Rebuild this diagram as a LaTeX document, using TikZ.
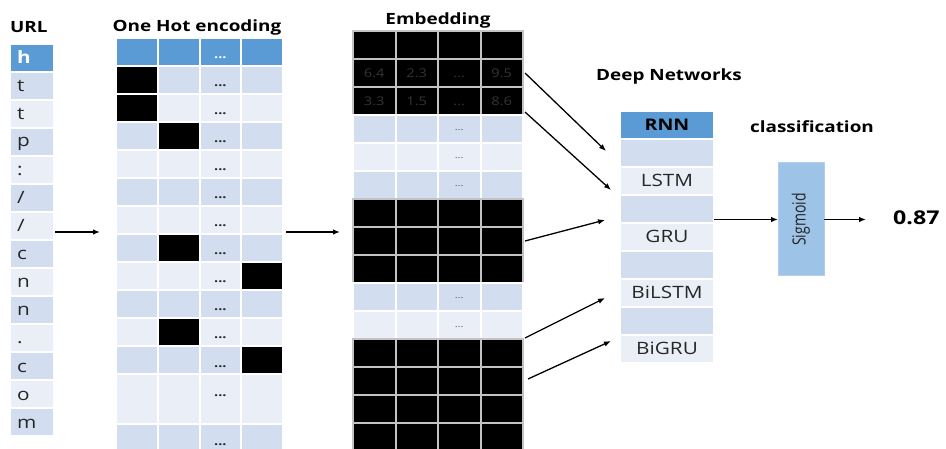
\documentclass[tikz,border=0pt]{standalone}
\usepackage{fontspec}
\setmainfont{Open Sans}[FakeStretch=1.22]
\newfontfamily\plainsans{Open Sans}
\usetikzlibrary{arrows.meta}

\definecolor{hdrblue}{RGB}{91,155,213}
\definecolor{rowdark}{RGB}{210,222,239}
\definecolor{rowlight}{RGB}{234,239,247}
\definecolor{sigblue}{RGB}{157,195,230}
\definecolor{sigedge}{RGB}{175,207,236}
\definecolor{inktext}{RGB}{38,38,38}
\definecolor{dimnum}{RGB}{52,52,52}
\definecolor{embgap}{RGB}{195,195,195}
\definecolor{dotgray}{RGB}{95,95,95}

\begin{document}
\begin{tikzpicture}[x=1pt,y=-1pt,
  cell/.style={anchor=north west, inner sep=0pt, outer sep=0pt, line width=2pt, draw=white},
  title/.style={font=\bfseries\fontsize{15.5}{18}\selectfont, text=black, inner sep=0pt, anchor=base},
  letter/.style={font=\fontsize{17}{20}\selectfont, text=inktext, inner sep=0pt, anchor=base west},
  hotdots/.style={font=\bfseries\fontsize{12}{14}\selectfont, inner sep=0pt, anchor=base, text=inktext},
  embdots/.style={font=\fontsize{9}{11}\selectfont, inner sep=0pt, anchor=base, text=dotgray},
  embnum/.style={font=\fontsize{12}{14}\selectfont, inner sep=0pt, anchor=base, text=dimnum},
  netlabel/.style={font=\fontsize{17}{20}\selectfont, inner sep=0pt, anchor=base, text=inktext},
  arr/.style={line width=1.3pt, -{Latex[length=7pt,width=5.5pt]}},
]

\useasboundingbox (0,0) rectangle (946,449);

% ---------- URL characters ----------
\node[title, anchor=base west] (urltitle) at (10,33) {URL};
\node[cell, fill=hdrblue, minimum width=44pt, minimum height=28pt] (u0) at (10,44) {};
\foreach \i in {1,...,13}{
  \ifodd\i\def\rc{rowdark}\else\def\rc{rowlight}\fi
  \node[cell, fill=\rc, minimum width=44pt, minimum height=28pt] (u\i) at (10,{44+28*\i}) {};
}
\node[letter, font=\bfseries\fontsize{17}{20}\selectfont, text=white] (l0) at (17,64) {h};
\node[letter] (l1)  at (17,92)  {t};
\node[letter] (l2)  at (17,120) {t};
\node[letter] (l3)  at (17,147) {p};
\node[letter] (l4)  at (17,176) {:};
\node[letter] (l5)  at (17,204) {/};
\node[letter] (l6)  at (17,232) {/};
\node[letter] (l7)  at (17,260) {c};
\node[letter] (l8)  at (17,288) {n};
\node[letter] (l9)  at (17,316) {n};
\node[letter] (l10) at (17,344) {.};
\node[letter] (l11) at (17,372) {c};
\node[letter] (l12) at (17,400) {o};
\node[letter] (l13) at (17,428) {m};

% ---------- one-hot matrix ----------
\node[title] (hottitle) at (197,32) {One Hot encoding};
\foreach \k in {0,...,11}{
  \ifnum\k=0 \def\fc{hdrblue}\else\ifodd\k\def\fc{rowdark}\else\def\fc{rowlight}\fi\fi
  \foreach \c in {1,...,4}
    \node[cell, fill=\fc, minimum width=41.75pt, minimum height=28pt] (hot-\k-\c) at ({116+41.75*(\c-1)},{38+28*\k}) {};
}
\foreach \c in {1,...,4}{
  \node[cell, fill=rowlight, minimum width=41.75pt, minimum height=50pt] (hot-12-\c) at ({116+41.75*(\c-1)},374) {};
  \node[cell, fill=rowdark, minimum width=41.75pt, minimum height=28pt] (hot-13-\c) at ({116+41.75*(\c-1)},424) {};
}
\foreach \k/\c in {1/1,2/1,3/2,7/2,8/4,10/2,11/4}
  \node[cell, fill=black, minimum width=41.75pt, minimum height=28pt] (one-\k-\c) at ({116+41.75*(\c-1)},{38+28*\k}) {};
\node[hotdots, text=white] (hd-0) at (220.4,59) {...};
\foreach \k in {1,...,11}
  \node[hotdots] (hd-\k) at (220.4,{38+28*\k+21}) {...};
\node[hotdots] (hd-12) at (220.4,396) {...};
\node[hotdots] (hd-13) at (220.4,445) {...};

% ---------- embedding matrix ----------
\node[title] (embtitle) at (438,25) {Embedding};
\foreach \k/\fc/\bc in {0/black/embgap,1/black/embgap,2/black/embgap,3/rowdark/white,
    4/rowlight/white,5/rowdark/white,6/black/embgap,7/black/embgap,8/black/embgap,
    9/rowdark/white,10/rowlight/white,11/black/embgap,12/black/embgap,13/black/embgap,14/black/embgap}
  \foreach \c in {1,...,4}
    \node[cell, fill=\fc, draw=\bc, minimum width=42.5pt, minimum height=28pt] (emb-\k-\c) at ({353+42.5*(\c-1)},{31+28*\k}) {};
\node[embnum] (n11) at (374.2,77.5) {6.4};
\node[embnum] (n12) at (416.7,77.5) {2.3};
\node[embnum] (n13) at (459.2,77.5) {...};
\node[embnum] (n14) at (501.7,77.5) {9.5};
\node[embnum] (n21) at (374.2,105.5) {3.3};
\node[embnum] (n22) at (416.7,105.5) {1.5};
\node[embnum] (n23) at (459.2,105.5) {...};
\node[embnum] (n24) at (501.7,105.5) {8.6};
\foreach \k in {3,4,5,9,10}
  \node[embdots] (ed-\k) at (459.2,{31+28*\k+16}) {...};

% ---------- recurrent models ----------
\node[title] (nettitle) at (669,81) {Deep Networks};
\node[cell, fill=hdrblue, minimum width=94pt, minimum height=28pt] (rnn-0) at (620,111) {};
\foreach \k in {1,...,8}{
  \ifodd\k\def\fc{rowdark}\else\def\fc{rowlight}\fi
  \node[cell, fill=\fc, minimum width=94pt, minimum height=28pt] (rnn-\k) at (620,{111+28*\k}) {};
}
\node[netlabel, font=\bfseries\fontsize{16}{18}\selectfont, text=black] (t-rnn) at (667,130.5) {RNN};
\node[netlabel] (t-lstm)   at (667,187) {LSTM};
\node[netlabel] (t-gru)    at (667,243) {GRU};
\node[netlabel] (t-bilstm) at (667,299) {BiLSTM};
\node[netlabel] (t-bigru)  at (667,355) {BiGRU};

% ---------- classifier ----------
\node[title] (clstitle) at (812,133) {classification};
\node[cell, fill=sigblue, draw=sigedge, line width=1pt, minimum width=46pt, minimum height=113pt] (sig) at (778,163) {};
\node[rotate=90, inner sep=0pt, text=inktext, font=\plainsans\fontsize{14}{16}\selectfont] (sigtxt) at (sig.center) {\scalebox{1}[1.3]{Sigmoid}};
\node[title, anchor=base west, font=\bfseries\fontsize{19}{21}\selectfont] (out) at (893,225) {0.87};

% ---------- connectors ----------
\coordinate (hotin) at (100,232);
\coordinate (embin) at (340,232);
\coordinate (t1) at (606,151);
\coordinate (t2) at (611,190);
\coordinate (t3) at (605,220);
\coordinate (t4) at (605,298);
\coordinate (t5) at (611,341);

\draw[arr] ([xshift=1pt,yshift=-6pt]u6.east) -- (hotin);
\draw[arr] ([xshift=3pt,yshift=-12pt]hot-6-4.east) -- (embin);
\draw[arr] ([xshift=2pt]emb-1-4.east) -- (t1);
\draw[arr] ([xshift=2pt,yshift=3pt]emb-2-4.south east) -- (t2);
\draw[arr] ([xshift=2pt]emb-7-4.east) -- (t3);
\draw[arr] ([xshift=2pt,yshift=1pt]emb-11-4.north east) -- (t4);
\draw[arr] ([xshift=5pt,yshift=2pt]emb-12-4.east) -- (t5);
\draw[arr] (rnn-3.east |- sig.west) -- (sig.west);
\draw[arr, shorten >=27pt] (sig.east) -- (sig.east -| out.west);

\end{tikzpicture}
\end{document}
